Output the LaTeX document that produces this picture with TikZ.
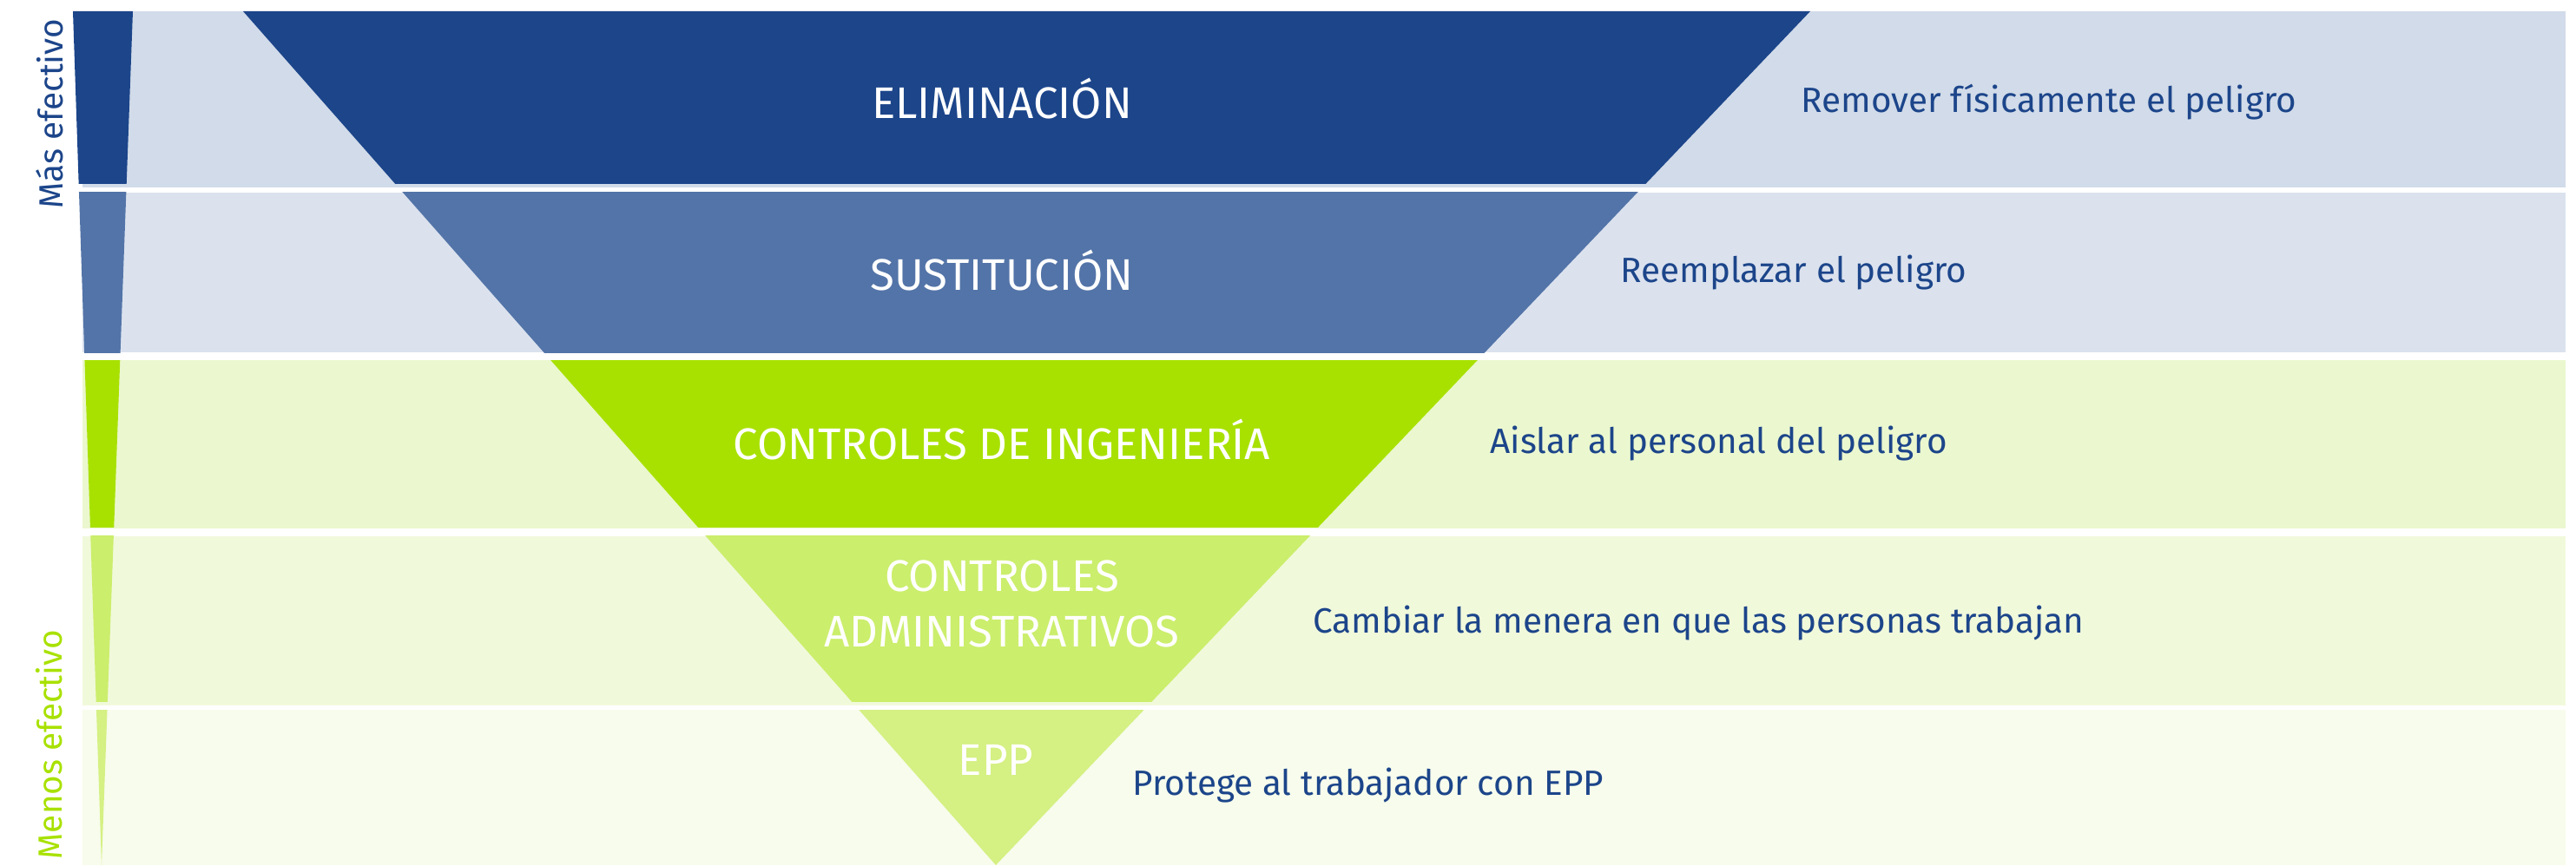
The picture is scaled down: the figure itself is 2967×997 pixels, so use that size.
\documentclass[tikz,border=0pt]{standalone}
\usepackage{fontspec}
\setmainfont{Fira Sans}
\usepackage{tikz}

\definecolor{elimDark}{HTML}{1C458A}
\definecolor{elimLight}{HTML}{D1DBE9}
\definecolor{sustDark}{HTML}{5374A8}
\definecolor{sustLight}{HTML}{DBE2EE}
\definecolor{ingDark}{HTML}{A8E100}
\definecolor{ingLight}{HTML}{EBF7CF}
\definecolor{admDark}{HTML}{CBEE6C}
\definecolor{admLight}{HTML}{F1F9DB}
\definecolor{eppDark}{HTML}{D5F083}
\definecolor{eppLight}{HTML}{F7FCEC}

\begin{document}
\begin{tikzpicture}[x=0.01cm, y=-0.01cm,
        level/.style={text=white, font=\fontsize{14.5}{18}\selectfont, align=center},
        note/.style={text=elimDark, font=\fontsize{11.5}{14}\selectfont, anchor=west},
        side/.style={rotate=90, font=\fontsize{11}{13}\selectfont}]
        \useasboundingbox (0,0) rectangle (2967,997);

        % --- TRIANGOLI ---
        \coordinate (tl) at (280,13);
        \coordinate (tr) at (2085,13);
        \coordinate (tip) at (1147,997);
        \coordinate (sl) at (84,13);
        \coordinate (sr) at (153,13);
        \coordinate (stip) at (117,997);

        % --- BANDE ---
        \fill[elimLight] (95,13) rectangle (2955,216);
        \begin{scope}
            \clip (0,13) rectangle (2967,212);
            \fill[elimDark] (tl) -- (tr) -- (tip) -- cycle;
            \fill[elimDark] (sl) -- (sr) -- (stip) -- cycle;
        \end{scope}

        \fill[sustLight] (95,222) rectangle (2955,406);
        \begin{scope}
            \clip (0,222) rectangle (2967,406);
            \fill[sustDark] (tl) -- (tr) -- (tip) -- cycle;
            \fill[sustDark] (sl) -- (sr) -- (stip) -- cycle;
        \end{scope}

        \fill[ingLight] (95,415) rectangle (2955,609);
        \begin{scope}
            \clip (0,415) rectangle (2967,607);
            \fill[ingDark] (tl) -- (tr) -- (tip) -- cycle;
            \fill[ingDark] (sl) -- (sr) -- (stip) -- cycle;
        \end{scope}

        \fill[admLight] (95,618) rectangle (2955,813);
        \begin{scope}
            \clip (0,617) rectangle (2967,808);
            \fill[admDark] (tl) -- (tr) -- (tip) -- cycle;
            \fill[admDark] (sl) -- (sr) -- (stip) -- cycle;
        \end{scope}

        \fill[eppLight] (95,818) rectangle (2955,997);
        \begin{scope}
            \clip (0,818) rectangle (2967,997);
            \fill[eppDark] (tl) -- (tr) -- (tip) -- cycle;
            \fill[eppDark] (sl) -- (sr) -- (stip) -- cycle;
        \end{scope}

        % --- LIVELLI ---
        \node (elim) at (1154,114) [level] {ELIMINACIÓN};
        \node (sust) at (1154,312) [level] {SUSTITUCIÓN};
        \node (ing) at (1154,507) [level] {CONTROLES DE INGENIERÍA};
        \node (adm) at (1154,696) [level] {CONTROLES\\ADMINISTRATIVOS};
        \node (epp) at (1147,876) [level] {EPP};

        % --- DESCRIZIONI ---
        \node (elimNote) at (2062,118) [note] {Remover físicamente el peligro};
        \node (sustNote) at (1854,314) [note] {Reemplazar el peligro};
        \node (ingNote) at (1704,511) [note] {Aislar al personal del peligro};
        \node (admNote) at (1500,718) [note] {Cambiar la menera en que las personas trabajan};
        \node (eppNote) at (1292,905) [note] {Protege al trabajador con EPP};

        % --- EFFICACIA ---
        \node (mas) at (57,131) [side, text=elimDark] {Más efectivo};
        \node (menos) at (57,858) [side, text=ingDark] {Menos efectivo};
    \end{tikzpicture}
\end{document}
